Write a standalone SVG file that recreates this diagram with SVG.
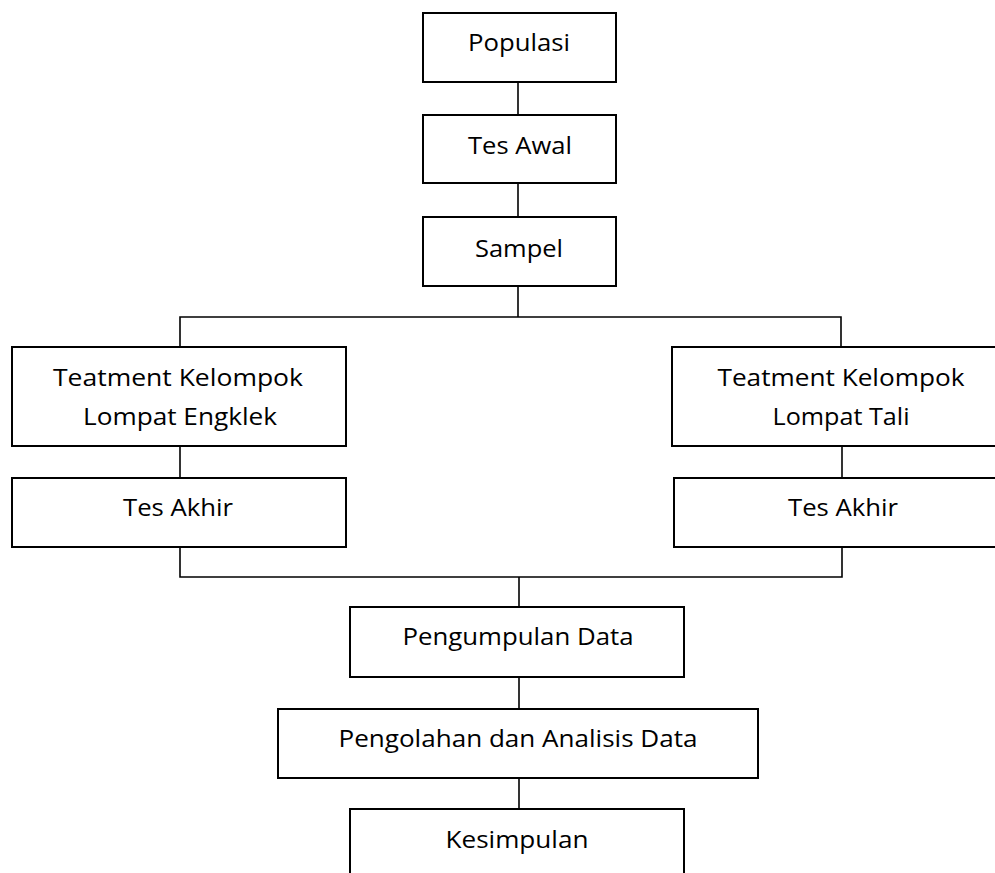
<svg xmlns="http://www.w3.org/2000/svg" width="995" height="873" viewBox="0 0 995 873">
<style>
.box{fill:#fff;stroke:#000;stroke-width:2}
.c{fill:none;stroke:#000;stroke-width:1.6}
text{font-family:"Open Sans","Liberation Sans",Arial,sans-serif;font-size:23px;fill:#000;text-anchor:middle}
</style>
<rect width="995" height="873" fill="#fff"/>
<g id="connectors">
<line class="c" x1="518" y1="82" x2="518" y2="115"/>
<line class="c" x1="518" y1="183" x2="518" y2="217"/>
<polyline class="c" points="518,286 518,317"/>
<polyline class="c" points="180,347 180,317 841,317 841,347"/>
<line class="c" x1="180" y1="446" x2="180" y2="478"/>
<line class="c" x1="842" y1="446" x2="842" y2="478"/>
<polyline class="c" points="180,547 180,577 842,577 842,547"/>
<line class="c" x1="519" y1="577" x2="519" y2="607"/>
<line class="c" x1="519" y1="677" x2="519" y2="709"/>
<line class="c" x1="519" y1="778" x2="519" y2="809"/>
</g>
<g id="populasi"><rect class="box" x="423" y="13" width="193" height="69"/><text x="519" y="51" textLength="102" lengthAdjust="spacingAndGlyphs">Populasi</text></g>
<g id="tes-awal"><rect class="box" x="423" y="115" width="193" height="68"/><text x="520" y="154" textLength="104" lengthAdjust="spacingAndGlyphs">Tes Awal</text></g>
<g id="sampel"><rect class="box" x="423" y="217" width="193" height="69"/><text x="519" y="257" textLength="88" lengthAdjust="spacingAndGlyphs">Sampel</text></g>
<g id="teatment-engklek"><rect class="box" x="12" y="347" width="334" height="99"/><text x="178" y="386" textLength="250" lengthAdjust="spacingAndGlyphs">Teatment Kelompok</text><text x="180" y="425" textLength="194" lengthAdjust="spacingAndGlyphs">Lompat Engklek</text></g>
<g id="teatment-tali"><rect class="box" x="672" y="347" width="336" height="99"/><text x="841" y="386" textLength="247" lengthAdjust="spacingAndGlyphs">Teatment Kelompok</text><text x="841" y="425" textLength="137" lengthAdjust="spacingAndGlyphs">Lompat Tali</text></g>
<g id="tes-akhir-kiri"><rect class="box" x="12" y="478" width="334" height="69"/><text x="178" y="516" textLength="110" lengthAdjust="spacingAndGlyphs">Tes Akhir</text></g>
<g id="tes-akhir-kanan"><rect class="box" x="674" y="478" width="334" height="69"/><text x="843" y="516" textLength="110" lengthAdjust="spacingAndGlyphs">Tes Akhir</text></g>
<g id="pengumpulan"><rect class="box" x="350" y="607" width="334" height="70"/><text x="518" y="645" textLength="231" lengthAdjust="spacingAndGlyphs">Pengumpulan Data</text></g>
<g id="pengolahan"><rect class="box" x="278" y="709" width="480" height="69"/><text x="518" y="747" textLength="359" lengthAdjust="spacingAndGlyphs">Pengolahan dan Analisis Data</text></g>
<g id="kesimpulan"><rect class="box" x="350" y="809" width="334" height="80"/><text x="517" y="848" textLength="143" lengthAdjust="spacingAndGlyphs">Kesimpulan</text></g>
</svg>
